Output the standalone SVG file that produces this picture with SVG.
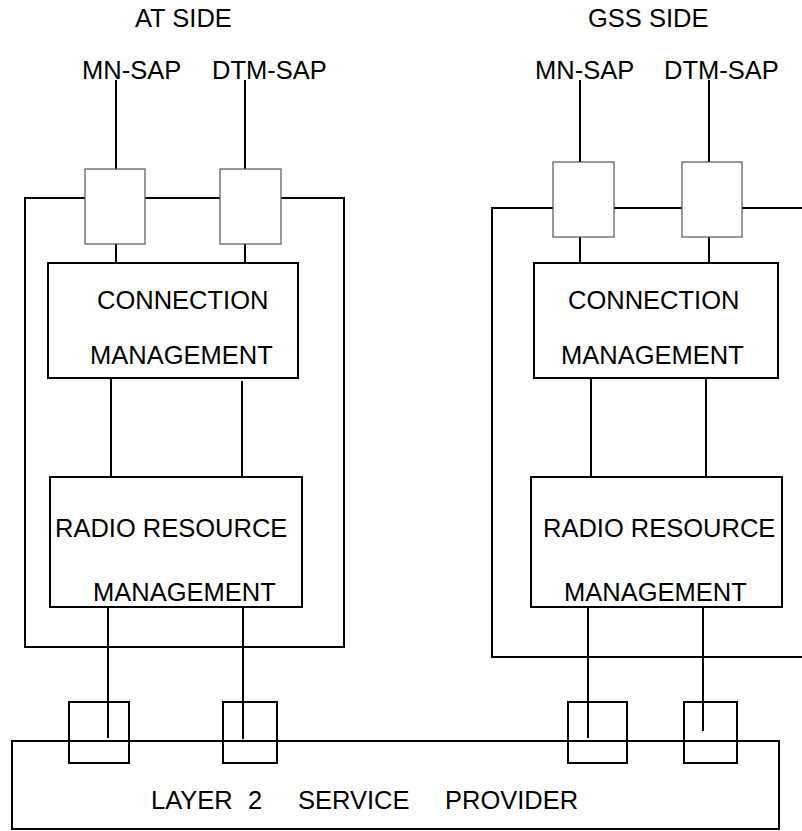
<svg xmlns="http://www.w3.org/2000/svg" width="802" height="831" viewBox="0 0 802 831">
<style>
text{font-family:"Liberation Sans",Arial,sans-serif;font-size:25.5px;fill:#000}
.ln{stroke:#000;stroke-width:2;fill:none}
.box{stroke:#000;stroke-width:2;fill:#fff}
.sap{stroke:#555;stroke-width:1.2;fill:#fff}
.l2{stroke:#000;stroke-width:2;fill:none}
</style>
<rect width="802" height="831" fill="#fff"/>
<g id="labels">
<text x="135" y="27">AT SIDE</text>
<text x="588" y="27">GSS SIDE</text>
<text x="82" y="79">MN-SAP</text>
<text x="212" y="79">DTM-SAP</text>
<text x="535" y="79">MN-SAP</text>
<text x="664" y="79">DTM-SAP</text>
</g>
<g id="connectors">
<!-- left side -->
<line class="ln" x1="116" y1="80" x2="116" y2="169"/>
<line class="ln" x1="245" y1="80" x2="245" y2="169"/>
<polyline class="ln" points="85,198 25,198 25,647 344,647 344,198 281,198"/>
<line class="ln" x1="145" y1="198" x2="220" y2="198"/>
<line class="ln" x1="116" y1="244" x2="116" y2="263"/>
<line class="ln" x1="245" y1="244" x2="245" y2="263"/>
<line class="ln" x1="111" y1="375" x2="111" y2="476"/>
<line class="ln" x1="242" y1="381" x2="242" y2="482"/>
<line class="ln" x1="108" y1="607" x2="108" y2="738"/>
<line class="ln" x1="243" y1="607" x2="243" y2="739"/>
<!-- right side -->
<line class="ln" x1="580" y1="80" x2="580" y2="162"/>
<line class="ln" x1="709" y1="80" x2="709" y2="162"/>
<polyline class="ln" points="553,208 492,208 492,657 802,657"/>
<line class="ln" x1="614" y1="208" x2="682" y2="208"/>
<line class="ln" x1="742" y1="208" x2="802" y2="208"/>
<line class="ln" x1="580" y1="237" x2="580" y2="263"/>
<line class="ln" x1="709" y1="237" x2="709" y2="263"/>
<line class="ln" x1="591" y1="375" x2="591" y2="476"/>
<line class="ln" x1="706" y1="375" x2="706" y2="482"/>
<line class="ln" x1="588" y1="607" x2="588" y2="738"/>
<line class="ln" x1="703" y1="607" x2="703" y2="731"/>
</g>
<g id="at-mn-sap"><rect class="sap" x="85" y="169" width="60" height="75"/></g>
<g id="at-dtm-sap"><rect class="sap" x="220" y="169" width="61" height="75"/></g>
<g id="gss-mn-sap"><rect class="sap" x="553" y="162" width="61" height="75"/></g>
<g id="gss-dtm-sap"><rect class="sap" x="682" y="162" width="60" height="75"/></g>
<g id="at-cm">
<rect class="box" x="48" y="263" width="250" height="115"/>
<text x="97" y="309">CONNECTION</text>
<text x="90" y="364">MANAGEMENT</text>
</g>
<g id="gss-cm">
<rect class="box" x="534" y="263" width="244" height="115"/>
<text x="568" y="309">CONNECTION</text>
<text x="561" y="364">MANAGEMENT</text>
</g>
<g id="at-rrm">
<rect class="box" x="50" y="477" width="252" height="130"/>
<text x="55" y="537">RADIO RESOURCE</text>
<text x="93" y="601">MANAGEMENT</text>
</g>
<g id="gss-rrm">
<rect class="box" x="531" y="477" width="251" height="130"/>
<text x="543" y="537">RADIO RESOURCE</text>
<text x="564" y="601">MANAGEMENT</text>
</g>
<g id="layer2">
<rect class="l2" x="12" y="741" width="767" height="88"/>
<text y="809"><tspan x="151">LAYER</tspan><tspan x="248">2</tspan><tspan x="298">SERVICE</tspan><tspan x="445">PROVIDER</tspan></text>
</g>
<g id="l2-saps">
<rect class="l2" x="69" y="702" width="60" height="61"/>
<rect class="l2" x="223" y="702" width="54" height="61"/>
<rect class="l2" x="568" y="702" width="59" height="61"/>
<rect class="l2" x="684" y="702" width="53" height="61"/>
</g>
</svg>
